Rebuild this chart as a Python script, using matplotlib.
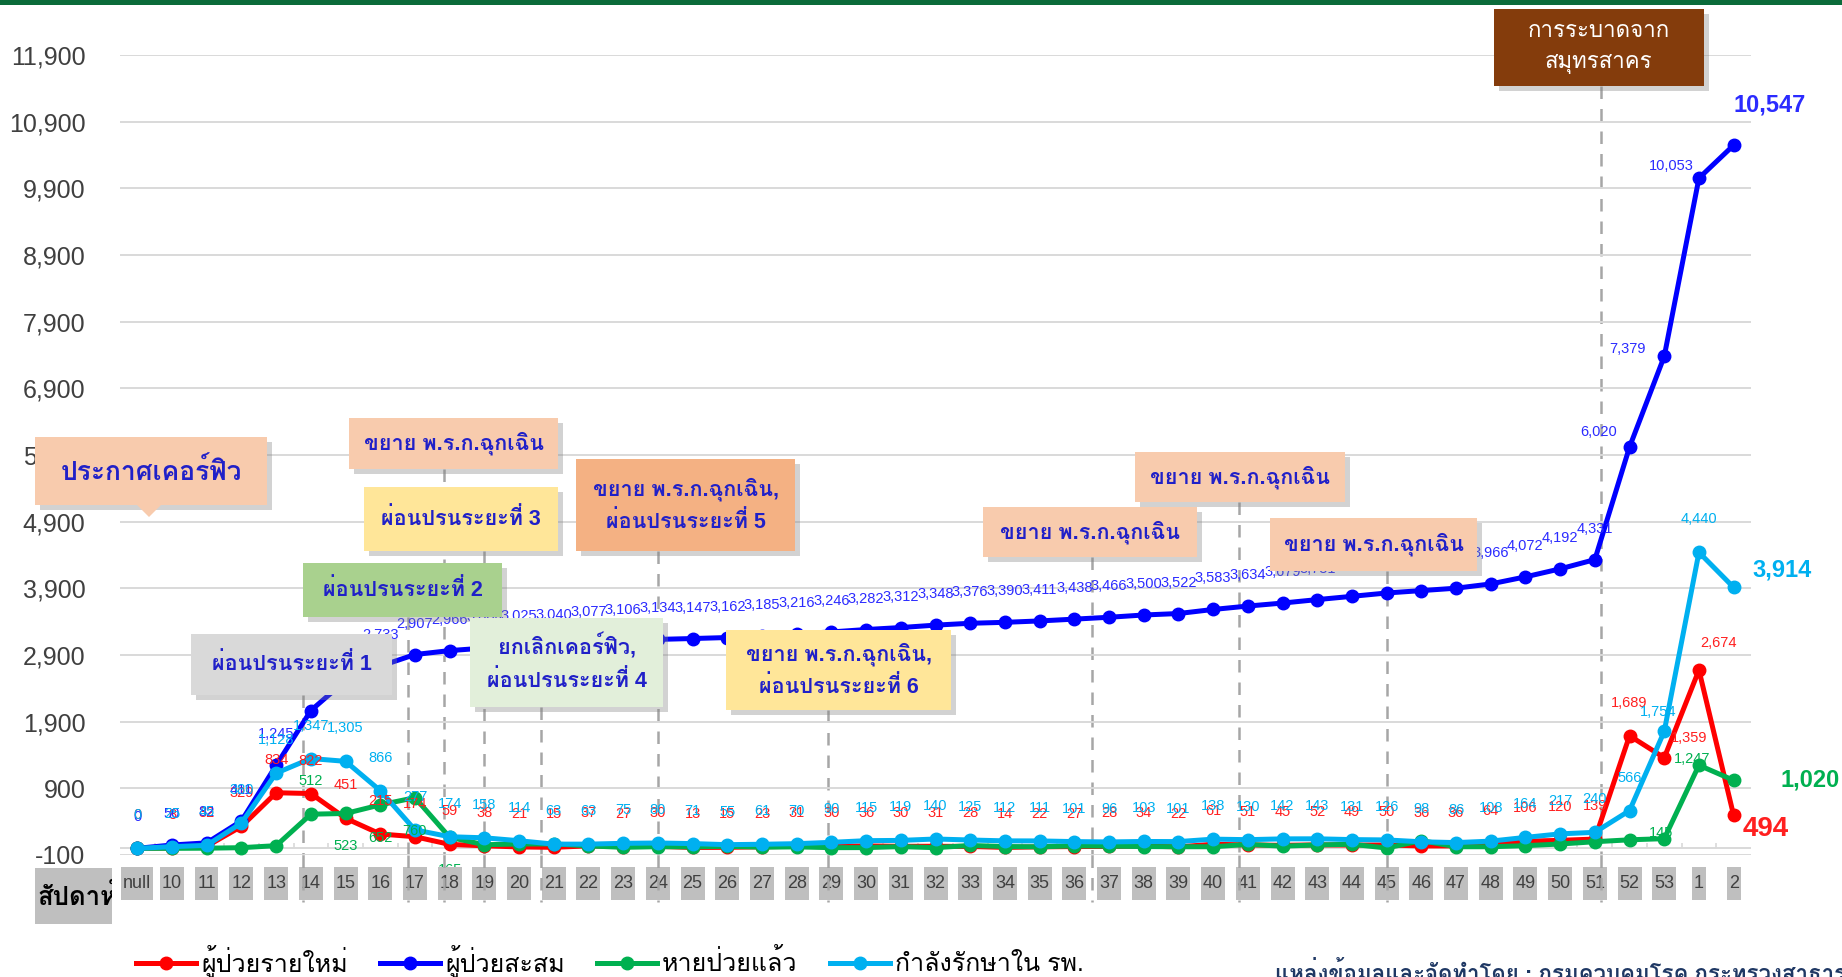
import matplotlib
matplotlib.use('Agg')
import matplotlib.pyplot as plt
from matplotlib import font_manager
from matplotlib.ft2font import FT2Font
from matplotlib.patches import Rectangle, Polygon
from matplotlib.lines import Line2D
from matplotlib.transforms import blended_transform_factory
from matplotlib.ticker import FuncFormatter

# ---------------- data ----------------
weeks = ['null'] + [str(w) for w in range(10, 54)] + ['1', '2']

new_cases = [0, 8, 32, 329, 834, 822, 451, 215, 174, 59, 38, 21, 15, 37, 27, 30,
             13, 15, 23, 31, 30, 36, 30, 31, 28, 14, 22, 27, 28, 34, 22, 61, 51,
             45, 52, 49, 50, 36, 36, 64, 106, 120, 139, 1689, 1359, 2674, 494]

cumulative = [0, 50, 82, 411, 1245, 2067, 2518, 2733, 2907, 2966, 3004, 3025,
              3040, 3077, 3106, 3134, 3147, 3162, 3185, 3216, 3246, 3282, 3312,
              3348, 3376, 3390, 3411, 3438, 3466, 3500, 3522, 3583, 3634, 3679,
              3731, 3780, 3830, 3866, 3902, 3966, 4072, 4192, 4331, 6020, 7379,
              10053, 10547]

recovered = [0, 0, 2, 10, 40, 512, 523, 652, 760, 165, 54, 65, 66, 37, 15, 25,
             22, 31, 17, 22, 10, 11, 26, 10, 43, 27, 23, 37, 33, 27, 24, 24, 59,
             33, 51, 61, 5, 115, 24, 24, 40, 65, 99, 128, 145, 1247, 1020]

in_hospital = [0, 25, 45, 380, 1128, 1347, 1305, 866, 277, 174, 158, 114, 63,
               63, 75, 80, 71, 55, 61, 70, 90, 115, 119, 140, 125, 112, 111, 101,
               96, 103, 101, 138, 130, 142, 143, 131, 126, 98, 86, 108, 164, 217,
               240, 566, 1754, 4440, 3914]

series_names = ['ผู้ป่วยรายใหม่', 'ผู้ป่วยสะสม', 'หายป่วยแล้ว', 'กำลังรักษาใน รพ.']
series_colors = ['#FF0000', '#0000FF', '#00B050', '#00B0F0']

event_texts = ['ประกาศเคอร์ฟิว', 'ขยาย พ.ร.ก.ฉุกเฉิน', 'ผ่อนปรนระยะที่ 3',
               'ขยาย พ.ร.ก.ฉุกเฉิน,\nผ่อนปรนระยะที่ 5', 'ผ่อนปรนระยะที่ 2',
               'ผ่อนปรนระยะที่ 1', 'ยกเลิกเคอร์ฟิว,\nผ่อนปรนระยะที่ 4',
               'ขยาย พ.ร.ก.ฉุกเฉิน,\nผ่อนปรนระยะที่ 6', 'ขยาย พ.ร.ก.ฉุกเฉิน',
               'ขยาย พ.ร.ก.ฉุกเฉิน', 'ขยาย พ.ร.ก.ฉุกเฉิน', 'การระบาดจาก\nสมุทรสาคร']

# event dates as position on the week axis, and the box each one leads to
event_weeks = [4.77, 7.8, 8.85, 9.98, 11.63, 15.0, 19.9, 27.5, 31.74, 36.0, 42.19]
event_line_box = [5, 4, 1, 2, 6, 3, 7, 8, 9, 10, 11]

source_text = 'แหล่งข้อมูลและจัดทำโดย : กรมควบคุมโรค กระทรวงสาธารณสุข'


# ---------------- fonts ----------------
def find_thai_font():
    for f in font_manager.fontManager.ttflist:
        try:
            if 0x0E01 in FT2Font(f.fname).get_charmap():
                return f.name
        except Exception:
            continue
    return 'DejaVu Sans'


thai = find_thai_font()
plt.rcParams['font.family'] = ['Liberation Sans', thai, 'DejaVu Sans']

W, H = 1842, 977
fig = plt.figure(figsize=(W / 100, H / 100), dpi=100)
ax = fig.add_axes([120 / W, 1 - 855 / H, 1631 / W, 800 / H])


def fx(x):
    return x / W


def fy(y):
    return 1 - y / H


x = list(range(len(weeks)))
series = [new_cases, cumulative, recovered, in_hospital]
for vals, c in zip(series, series_colors):
    ax.plot(x, vals, color=c, lw=3.6, marker='o', ms=9, zorder=3)

ax.set_xlim(-0.5, len(weeks) - 0.5)
ax.set_ylim(-100, 11900)
ax.set_yticks(range(-100, 12000, 1000))
ax.yaxis.set_major_formatter(FuncFormatter(lambda v, p: f'{int(v):,}'))
ax.tick_params(axis='y', length=0, pad=25, labelsize=18, labelcolor='#404040')
ax.set_xticks([])
ax.grid(axis='y', color='#D9D9D9', lw=1.4, zorder=0.5)
for s in ax.spines.values():
    s.set_visible(False)
ax.axhline(0, color='#D9D9D9', lw=1.4, zorder=0.6)
ax.vlines([i + 0.5 for i in x[:-1]], 0, 80, color='#D9D9D9', lw=1.2, zorder=0.6)


# ---------------- data labels ----------------
def put_labels(vals, color, dy, special):
    for i, v in enumerate(vals):
        ddx, ddy, kw = special.get(i, (0, dy, {}))
        size = kw.get('size', 10.5)
        weight = kw.get('weight', 'normal')
        ax.annotate(f'{v:,}', (i, v), xytext=(ddx, ddy), textcoords='offset pixels',
                    ha='center', va='center', color=color, fontsize=size,
                    fontweight=weight, zorder=4, annotation_clip=False)


big = {'size': 17, 'weight': 'bold'}
put_labels(new_cases, '#FF2020', 33, {44: (25, 20, {}), 45: (20, 27, {}),
                                      46: (32, -14, {'size': 20, 'weight': 'bold'})})
put_labels(cumulative, '#2B2BFF', 31, {43: (-31, 15, {}), 44: (-37, 7, {}),
                                       45: (-28, 12, {}), 46: (36, 40, big)})
put_labels(recovered, '#00B050', -33, {5: (0, 33, {}), 44: (-3, 6, {}),
                                       45: (-7, 6, {}), 46: (76, 0, big)})
put_labels(in_hospital, '#00B0F0', 33, {44: (-6, 19, {}), 46: (48, 17, big)})

# ---------------- week labels with grey boxes ----------------
xfig = blended_transform_factory(ax.transData, fig.transFigure)
tick_texts = []
for i, w in enumerate(weeks):
    t = fig.text(i, fy(884), w, transform=xfig, ha='center', va='center',
                 fontsize=13, color='#404040', zorder=2)
    tick_texts.append(t)

fig.canvas.draw()
rend = fig.canvas.get_renderer()
for t in tick_texts:
    bb = t.get_window_extent(rend)
    fig.add_artist(Rectangle((fx(bb.x0 - 2), fy(900)), fx(bb.width + 4), 33 / H,
                             transform=fig.transFigure, facecolor='#BFBFBF',
                             edgecolor='none', zorder=1))

wk_box = Rectangle((fx(35), fy(924)), fx(77), 56 / H, transform=fig.transFigure,
                   facecolor='#BFBFBF', edgecolor='none', zorder=1)
fig.add_artist(wk_box)
wt = fig.text(fx(37), fy(896), 'สัปดาห์', ha='left', va='center', fontsize=18.5,
              fontweight='bold', color='#000000', zorder=2)
wt.set_clip_path(wk_box)

# ---------------- event boxes ----------------
# (left, top, right, bottom) in pixels, face colour, text colour, size
box_layout = [
    ((35, 437, 267, 505), '#F8CBAD', '#2020C8', 19),
    ((349, 418, 558, 469), '#F8CBAD', '#2020C8', 15.5),
    ((364, 487, 558, 551), '#FFE699', '#2020C8', 15.5),
    ((576, 459, 795, 551), '#F4B183', '#2020C8', 15.5),
    ((303, 563, 502, 617), '#A9D18E', '#2020C8', 15.5),
    ((191, 634, 392, 695), '#D9D9D9', '#2020C8', 15.5),
    ((470, 618, 663, 707), '#E2EFDA', '#2020C8', 15.5),
    ((726, 630, 951, 710), '#FFE699', '#2020C8', 15.5),
    ((983, 507, 1197, 557), '#F8CBAD', '#2020C8', 15.5),
    ((1135, 452, 1345, 502), '#F8CBAD', '#2020C8', 15.5),
    ((1270, 518, 1477, 571), '#F8CBAD', '#2020C8', 15.5),
    ((1494, 9, 1704, 86), '#843C0C', '#FFFFFF', 16),
]

# dashed event lines: part inside the plot under the data, part over the week boxes
for xe, b in zip(event_weeks, event_line_box):
    top = box_layout[b][0][3]
    ax.add_line(Line2D([xe, xe], [fy(top), fy(855)], transform=xfig, color='#A6A6A6',
                       lw=1.8, ls=(0, (5, 4)), zorder=1.5, clip_on=False))
    fig.add_artist(Line2D([xe, xe], [fy(855), fy(902)], transform=xfig, color='#A6A6A6',
                          lw=1.8, ls=(0, (5, 4)), zorder=3))

for txt, ((l, t, r, b), fc, tc, fs) in zip(event_texts, box_layout):
    fig.add_artist(Rectangle((fx(l + 5), fy(b + 5)), fx(r - l), (b - t) / H,
                             transform=fig.transFigure, facecolor='#7F7F7F',
                             alpha=0.35, edgecolor='none', zorder=4))
    fig.add_artist(Rectangle((fx(l), fy(b)), fx(r - l), (b - t) / H,
                             transform=fig.transFigure, facecolor=fc,
                             edgecolor='none', zorder=5))
    weight = 'normal' if tc == '#FFFFFF' else 'bold'
    fig.text(fx((l + r) / 2), fy((t + b) / 2), txt, ha='center', va='center',
             fontsize=fs, fontweight=weight, color=tc, linespacing=1.6, zorder=6)

# little pointer under the curfew box
fig.add_artist(Polygon([(fx(137), fy(505)), (fx(161), fy(505)), (fx(149), fy(517))],
                       closed=True, transform=fig.transFigure, facecolor='#F8CBAD',
                       edgecolor='none', zorder=5))

# ---------------- legend, source, top band ----------------
handles = [Line2D([], [], color=c, lw=3.6, marker='o', ms=9) for c in series_colors]
fig.legend(handles, series_names, loc='center', bbox_to_anchor=(fx(610), fy(961)),
           ncol=4, frameon=False, fontsize=18, handlelength=2.4, columnspacing=1.3,
           handletextpad=0.2)

fig.text(fx(1275), fy(972), source_text, ha='left', va='center', fontsize=16,
         fontweight='bold', color='#1F3864')

fig.add_artist(Rectangle((0, fy(5)), 1, 5 / H, transform=fig.transFigure,
                         facecolor='#0B6B3A', edgecolor='none', zorder=7))

fig.savefig('out.png', dpi=100)
